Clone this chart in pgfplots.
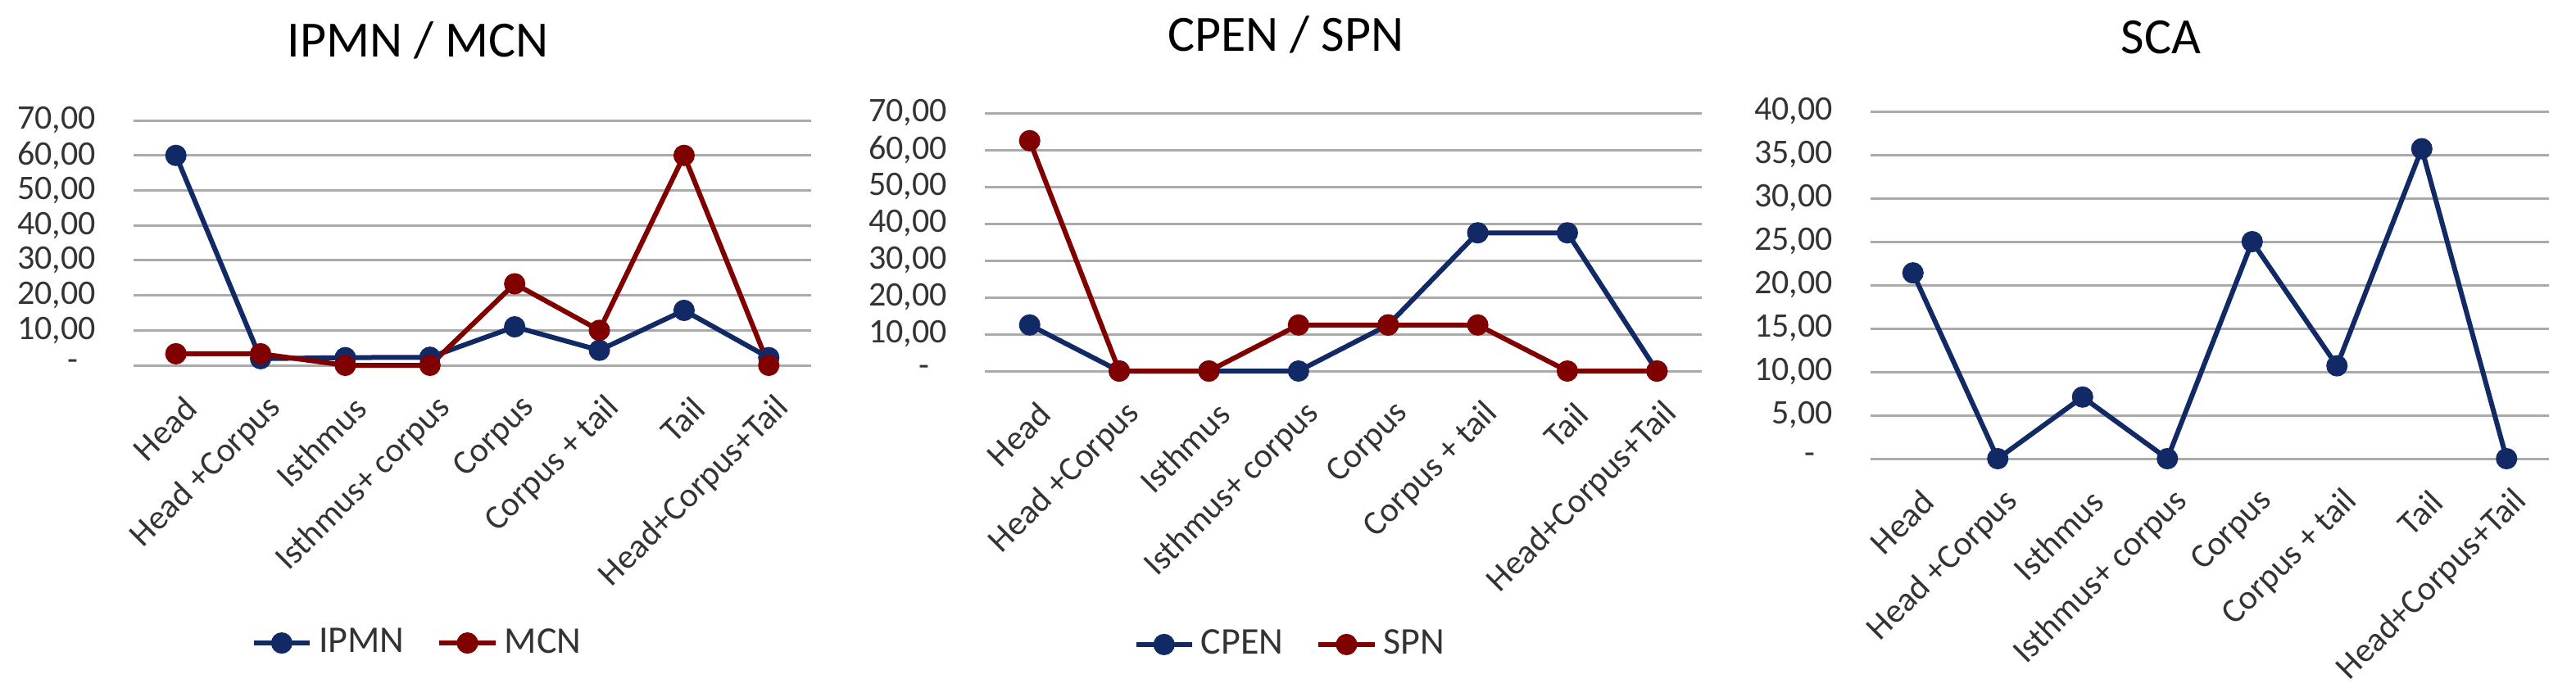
\documentclass[border=0pt]{standalone}
\usepackage{fontspec}
\setmainfont{Carlito}
\usepackage{pgfplots}
\pgfplotsset{compat=1.18}

\definecolor{navy}{RGB}{17,42,102}
\definecolor{maroon}{RGB}{128,0,0}
\definecolor{gridgray}{RGB}{170,170,170}

\pgfplotsset{
  excel/.style={
    scale only axis,
    anchor=south west,
    clip=false,
    xmin=-0.5, xmax=7.5,
    xtick={0,...,7},
    xticklabels={Head,Head +Corpus,Isthmus,Isthmus+ corpus,Corpus,Corpus + tail,Tail,Head+Corpus+Tail},
    ymin=0,
    ymajorgrids,
    grid style={gridgray, line width=0.75pt},
    axis line style={draw=none},
    major tick style={draw=none},
    tick label style={font=\fontsize{10.5}{12.5}\selectfont, text=black!80},
    xticklabel style={xshift=7pt, yshift=-9pt, rotate=45, anchor=east},
    yticklabel style={xshift=-8pt},
    title style={font=\fontsize{15.5}{18}\selectfont, anchor=center},
    legend style={draw=none, font=\fontsize{11.5}{13}\selectfont, text=black!80,
      legend columns=2, anchor=center,
      /tikz/every even column/.append style={column sep=8pt}},
    every axis plot/.append style={line width=1.5pt, mark=*, mark size=2.5pt},
  },
  nv/.style={navy, mark options={fill=navy, draw=navy}},
  mr/.style={maroon, mark options={fill=maroon, draw=maroon}},
}

\begin{document}
\begin{tikzpicture}
\useasboundingbox (0,0) rectangle (786pt,-212.5pt);

% IPMN / MCN
\begin{axis}[excel,
    at={(40.75pt,-111.5pt)}, width=206.75pt, height=74.75pt,
    ymax=70, ytick={0,10,...,70},
    yticklabels={{-\hphantom{0}},{10,00},{20,00},{30,00},{40,00},{50,00},{60,00},{70,00}},
    title={IPMN / MCN}, title style={at={(axis description cs:0.42,1.248)}},
    legend style={at={(axis description cs:0.422,-1.134)}},
  ]
  \addplot[nv] coordinates {(0,60) (1,1.9) (2,2.2) (3,2.3) (4,11) (5,4.3) (6,15.7) (7,2.2)};
  \addplot[mr] coordinates {(0,3.3) (1,3.3) (2,0) (3,0) (4,23.3) (5,10) (6,60) (7,0)};
  \legend{IPMN, MCN}
\end{axis}

% CPEN / SPN
\begin{axis}[excel,
    at={(300.5pt,-113.25pt)}, width=218.75pt, height=78.75pt,
    ymax=70, ytick={0,10,...,70},
    yticklabels={{-\hphantom{0}},{10,00},{20,00},{30,00},{40,00},{50,00},{60,00},{70,00}},
    title={CPEN / SPN}, title style={at={(axis description cs:0.42,1.228)}},
    legend style={at={(axis description cs:0.429,-1.06)}},
  ]
  \addplot[nv] coordinates {(0,12.5) (1,0) (2,0) (3,0) (4,12.5) (5,37.5) (6,37.5) (7,0)};
  \addplot[mr] coordinates {(0,62.5) (1,0) (2,0) (3,12.5) (4,12.5) (5,12.5) (6,0) (7,0)};
  \legend{CPEN, SPN}
\end{axis}

% SCA
\begin{axis}[excel,
    at={(570.75pt,-140pt)}, width=207pt, height=106pt,
    ymax=40, ytick={0,5,...,40},
    yticklabels={{-\hphantom{0}},{5,00},{10,00},{15,00},{20,00},{25,00},{30,00},{35,00},{40,00}},
    title={SCA}, title style={at={(axis description cs:0.428,1.156)}},
  ]
  \addplot[nv] coordinates {(0,21.4) (1,0) (2,7.1) (3,0) (4,25) (5,10.7) (6,35.7) (7,0)};
\end{axis}
\end{tikzpicture}
\end{document}
